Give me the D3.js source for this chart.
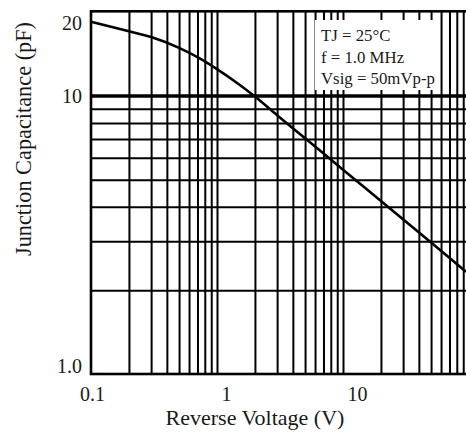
<!DOCTYPE html>
<html>
<head>
<meta charset="utf-8">
<script src="https://cdn.jsdelivr.net/npm/d3@7"></script>
<style>
  body { margin: 0; background: #fff; }
  svg { display: block; }
  text { font-family: "Liberation Serif", "Times New Roman", serif; fill: #1a1a1a; }
</style>
</head>
<body>
<svg id="chart"></svg>
<script>
const width = 466;
const height = 432;

// curve
const voltage = [0.1, 0.2, 0.3, 0.5, 0.7, 1, 1.5, 2, 3, 5, 10, 20, 50, 95];
const capacitance = [18.5, 17.1, 16.3, 14.9, 13.8, 12.5, 11.0, 9.95, 8.53, 7.05, 5.43, 4.19, 2.97, 2.33];

// grid + ticks
const xGrid = [0.2, 0.3, 0.4, 0.5, 0.6, 0.7, 0.8, 0.9, 1, 2, 3, 4, 5, 6, 7, 8, 9, 10, 20, 30, 40, 50, 60, 70, 80, 90];
const yGrid = [2, 3, 4, 5, 6, 7, 8, 9];
const xTicks = [0.1, 1, 10];
const xTickLabels = ["0.1", "1", "10"];
const yTicks = [1, 10, 20];
const yTickLabels = ["1.0", "10", "20"];
const notes = ["TJ = 25°C", "f = 1.0 MHz", "Vsig = 50mVp-p"];

const left = 91, bottom = 374, decadeX = 126, decadeY = 278;

const svg = d3.select("#chart")
    .attr("width", width)
    .attr("height", height);

// log scales (plot runs off the right edge at 100 V)
const x = d3.scaleLog()
    .domain([0.1, 100])
    .range([left, left + 3 * decadeX]);

const y = d3.scaleLog()
    .domain([1, 20])
    .range([bottom, bottom - decadeY * Math.log10(20)]);

const plotTop = y(20) - 1, plotRight = x(100);

// vertical grid
svg.append("g")
    .attr("transform", `translate(0,${bottom})`)
    .call(d3.axisBottom(x).tickValues(xGrid).tickSize(-(bottom - plotTop)).tickFormat(""))
    .call(g => g.select(".domain").remove())
    .selectAll(".tick line")
    .attr("stroke", "#000")
    .attr("stroke-width", 2);

// horizontal grid
svg.append("g")
    .attr("transform", `translate(${left},0)`)
    .call(d3.axisLeft(y).tickValues(yGrid).tickSize(-(plotRight - left)).tickFormat(""))
    .call(g => g.select(".domain").remove())
    .selectAll(".tick line")
    .attr("stroke", "#000")
    .attr("stroke-width", 2);

// heavy 10 pF line
svg.append("line")
    .attr("x1", left).attr("x2", plotRight)
    .attr("y1", y(10)).attr("y2", y(10))
    .attr("stroke", "#000")
    .attr("stroke-width", 3.5);

// note box
const box = svg.append("g");
box.append("rect")
    .attr("x", 315).attr("y", 20)
    .attr("width", 121).attr("height", 70)
    .attr("fill", "#fff");
box.selectAll("text")
    .data(notes)
    .enter().append("text")
    .attr("x", 321)
    .attr("y", (d, i) => 41 + i * 21.7)
    .attr("font-size", 16.8)
    .text(d => d);

// frame
svg.append("rect")
    .attr("x", left).attr("y", plotTop)
    .attr("width", plotRight - left).attr("height", bottom - plotTop)
    .attr("fill", "none")
    .attr("stroke", "#000")
    .attr("stroke-width", 2.6);

// curve
const line = d3.line()
    .x((d, i) => x(voltage[i]))
    .y(d => y(d))
    .curve(d3.curveMonotoneX);

svg.append("path")
    .datum(capacitance)
    .attr("d", line)
    .attr("fill", "none")
    .attr("stroke", "#000")
    .attr("stroke-width", 2.6);

// x axis labels
const xDx = [1, 9, 14];
svg.append("g")
    .attr("transform", `translate(0,${bottom})`)
    .call(d3.axisBottom(x).tickValues(xTicks).tickSize(0).tickPadding(13)
        .tickFormat((d, i) => xTickLabels[i]))
    .call(g => g.select(".domain").remove())
    .selectAll("text")
    .attr("font-family", "Liberation Serif, serif")
    .attr("font-size", 20)
    .attr("fill", "#1a1a1a")
    .attr("dx", (d, i) => xDx[i]);

// y axis labels
const yDy = [-8, 0, 11];
svg.append("g")
    .attr("transform", `translate(${left},0)`)
    .call(d3.axisLeft(y).tickValues(yTicks).tickSize(0).tickPadding(9)
        .tickFormat((d, i) => yTickLabels[i]))
    .call(g => g.select(".domain").remove())
    .selectAll("text")
    .attr("font-family", "Liberation Serif, serif")
    .attr("font-size", 20)
    .attr("fill", "#1a1a1a")
    .attr("dy", (d, i) => `${0.32 * 20 + yDy[i]}px`);

// axis titles
svg.append("text")
    .attr("x", 255)
    .attr("y", 425)
    .attr("text-anchor", "middle")
    .attr("font-size", 22)
    .text("Reverse Voltage (V)");

svg.append("text")
    .attr("transform", "translate(31,139) rotate(-90)")
    .attr("text-anchor", "middle")
    .attr("font-size", 22.3)
    .text("Junction Capacitance (pF)");
</script>
</body>
</html>
